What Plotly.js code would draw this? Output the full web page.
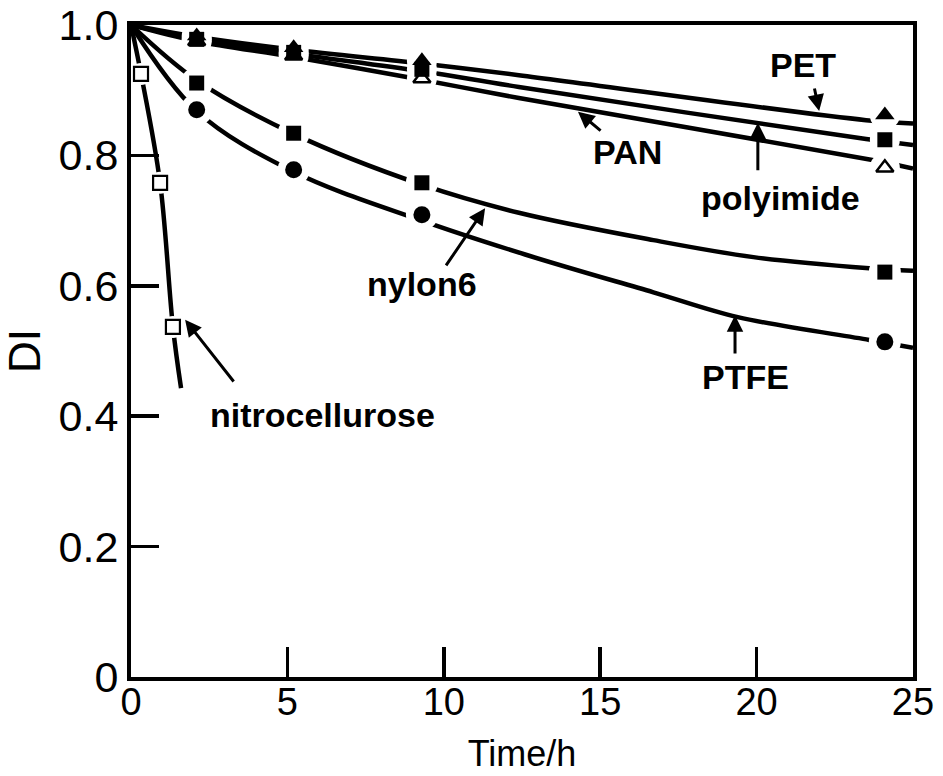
<!DOCTYPE html>
<html><head><meta charset="utf-8">
<script src="https://cdn.plot.ly/plotly-3.0.1.min.js"></script>
<style>html,body{margin:0;padding:0;background:#fff}</style>
</head><body><div id="chart" style="width:943px;height:776px"></div>
<script>
// ---- tick labels ----
const xTickVals = [0, 5, 10, 15, 20, 25];
const xTickText = ['0', '5', '10', '15', '20', '25'];
const yTickVals = [0, 0.2, 0.4, 0.6, 0.8, 1.0];
const yTickText = ['0', '0.2', '0.4', '0.6', '0.8', '1.0'];

// ---- measured points (Time/h, DI) ----
const sampleTimes = [2.1, 5.2, 9.3, 24.1];
const petDI       = [0.983, 0.965, 0.945, 0.862];
const polyimideDI = [0.978, 0.958, 0.932, 0.824];
const panDI       = [0.975, 0.953, 0.918, 0.781];
const nylon6DI    = [0.911, 0.834, 0.758, 0.621];
const ptfeDI      = [0.870, 0.778, 0.709, 0.514];
const nitroTimes  = [0.32, 0.93, 1.34];
const nitroDI     = [0.925, 0.758, 0.537];

// ---- drawn curves ----
const petCurveT       = [0, 2.1, 5.2, 9.3, 12.4, 23.5, 25];
const petCurveDI      = [1.0, 0.982, 0.962, 0.941, 0.923, 0.854, 0.849];
const polyimideCurveT = [0, 2.1, 5.2, 9.3, 12.4, 23.5, 25];
const polyimideCurveDI= [1.0, 0.978, 0.956, 0.929, 0.905, 0.825, 0.816];
const panCurveT       = [0, 2.1, 5.2, 9.3, 12.4, 23.7, 25];
const panCurveDI      = [1.0, 0.975, 0.951, 0.916, 0.888, 0.793, 0.780];
const nylon6CurveT    = [0, 2.1, 5.2, 9.3, 12.4, 16.7, 19.9, 23.6, 25];
const nylon6CurveDI   = [1.0, 0.915, 0.833, 0.755, 0.712, 0.670, 0.644, 0.627, 0.623];
const ptfeCurveT      = [0, 2.1, 5.2, 9.3, 12.6, 16.7, 19.4, 23.6, 25];
const ptfeCurveDI     = [1.0, 0.868, 0.775, 0.700, 0.648, 0.590, 0.552, 0.517, 0.505];
const nitroCurveT     = [0, 0.32, 0.93, 1.34, 1.6];
const nitroCurveDI    = [1.0, 0.925, 0.758, 0.537, 0.443];

const seriesNames = ['PET', 'polyimide', 'PAN', 'nylon6', 'PTFE', 'nitrocellulose'];

const curves = [
  [petCurveT, petCurveDI], [polyimideCurveT, polyimideCurveDI], [panCurveT, panCurveDI],
  [nylon6CurveT, nylon6CurveDI], [ptfeCurveT, ptfeCurveDI], [nitroCurveT, nitroCurveDI]
];
const points = [
  [sampleTimes, petDI], [sampleTimes, polyimideDI], [sampleTimes, panDI],
  [sampleTimes, nylon6DI], [sampleTimes, ptfeDI], [nitroTimes, nitroDI]
];
const markerStyles = [
  {symbol: 'triangle-up', size: 17, color: 'black'},
  {symbol: 'square', size: 15, color: 'black'},
  {symbol: 'triangle-up-open', size: 15, color: 'black', line: {width: 2.5, color: 'black'}},
  {symbol: 'square', size: 15, color: 'black'},
  {symbol: 'circle', size: 17, color: 'black'},
  {symbol: 'square-open', size: 14, color: 'black', line: {width: 2.2, color: 'black'}}
];
const haloSizes = [30, 30, 30, 32, 32, 22];

const traces = [];
curves.forEach((c, i) => traces.push({
  x: c[0], y: c[1], type: 'scatter', mode: 'lines', name: seriesNames[i],
  line: {color: 'black', width: 4.5, shape: 'spline', smoothing: 1}, hoverinfo: 'skip'
}));
points.forEach((p, i) => traces.push({
  x: p[0], y: p[1], type: 'scatter', mode: 'markers', name: seriesNames[i] + ' gap',
  marker: {symbol: 'circle', size: haloSizes[i], color: 'white'}, hoverinfo: 'skip'
}));
points.forEach((p, i) => traces.push({
  x: p[0], y: p[1], type: 'scatter', mode: 'markers', name: seriesNames[i],
  marker: markerStyles[i]
}));

const labelFont = {family: 'Liberation Sans, Arial, sans-serif', size: 34, color: 'black', weight: 'bold'};
const labels = [
  {text: 'PET', x: 21.48, y: 0.939},
  {text: 'PAN', x: 15.86, y: 0.805},
  {text: 'polyimide', x: 20.75, y: 0.735},
  {text: 'nylon6', x: 9.3, y: 0.603},
  {text: 'PTFE', x: 19.63, y: 0.460},
  {text: 'nitrocellurose', x: 6.11, y: 0.402}
];
const arrows = [
  {x: 22.0, y: 0.868, ax: 21.84, ay: 0.905},
  {x: 14.29, y: 0.867, ax: 15.06, ay: 0.836},
  {x: 20.04, y: 0.850, ax: 20.04, ay: 0.775},
  {x: 11.32, y: 0.719, ax: 10.04, ay: 0.629},
  {x: 19.31, y: 0.555, ax: 19.31, ay: 0.494},
  {x: 1.73, y: 0.548, ax: 3.32, ay: 0.451}
];
const annotations = [];
labels.forEach(l => annotations.push({
  text: l.text, x: l.x, y: l.y, xref: 'x', yref: 'y', showarrow: false,
  font: labelFont, xanchor: 'center', yanchor: 'middle'
}));
arrows.forEach(a => annotations.push({
  text: '', x: a.x, y: a.y, ax: a.ax, ay: a.ay, xref: 'x', yref: 'y', axref: 'x', ayref: 'y',
  showarrow: true, arrowhead: 2, arrowsize: 1.1, arrowwidth: 3, arrowcolor: 'black'
}));

const layout = {
  width: 943, height: 776,
  margin: {l: 131, r: 30, t: 25, b: 99, pad: 0},
  paper_bgcolor: 'white', plot_bgcolor: 'white',
  showlegend: false,
  font: {family: 'Liberation Sans, Arial, sans-serif', color: 'black'},
  xaxis: {
    range: [0, 25], tickmode: 'array', tickvals: xTickVals, ticktext: xTickText,
    ticks: 'inside', ticklen: 30, tickwidth: 3.5, tickcolor: 'black',
    showline: true, linewidth: 4, linecolor: 'black', mirror: true,
    showgrid: false, zeroline: false, ticklabelstandoff: -12,
    tickfont: {size: 38},
    title: {text: 'Time/h', font: {size: 36}, standoff: 20}
  },
  yaxis: {
    range: [0, 1], tickmode: 'array', tickvals: yTickVals, ticktext: yTickText,
    ticks: 'inside', ticklen: 28, tickwidth: 3.5, tickcolor: 'black',
    showline: true, linewidth: 4, linecolor: 'black', mirror: true,
    showgrid: false, zeroline: false,
    tickfont: {size: 43},
    title: {text: 'DI', font: {size: 44}, standoff: 14}
  },
  annotations: annotations
};

Plotly.newPlot('chart', traces, layout, {staticPlot: true, displayModeBar: false});
</script>
</body></html>
